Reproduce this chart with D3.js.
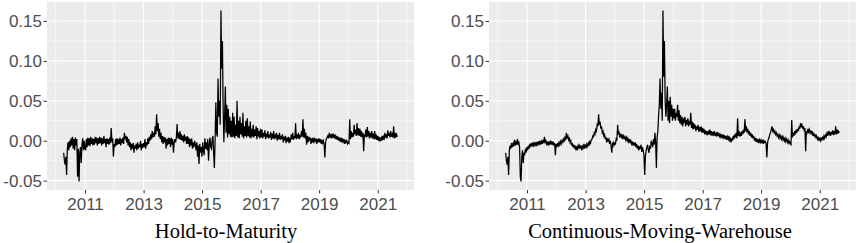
<!DOCTYPE html>
<html><head><meta charset="utf-8">
<script src="https://cdn.jsdelivr.net/npm/d3@7"></script>
<style>body{margin:0;background:#fff}svg{display:block}</style>
</head><body>
<svg id="c" width="858" height="243"></svg>
<script>
// time grid: one value every stepYears starting at startYear
const startYear = 2010.27, stepYears = 0.025;

const valuesHTM = [
  -0.015,-0.025,-0.030,-0.020,-0.043,-0.010,-0.002,-0.012,0.000,-0.008,0.003,-0.006,0.005,-0.010,0.002,-0.012,0.004,-0.006,0.002,-0.045,-0.010,-0.051,-0.015,-0.008,-0.028,-0.005,0.003,-0.012,0.000,-0.010,
  -0.012,0.002,-0.008,0.004,-0.006,0.003,-0.007,0.005,-0.004,0.003,-0.006,0.002,-0.005,0.005,-0.003,0.004,-0.006,0.003,-0.004,0.005,
  -0.003,0.004,-0.006,0.003,-0.004,0.006,-0.003,0.002,-0.008,0.003,-0.004,0.002,-0.005,0.004,-0.003,0.016,-0.002,0.003,-0.020,-0.004,
  -0.008,0.002,-0.006,0.003,-0.005,0.002,-0.004,0.004,-0.006,0.002,-0.003,0.004,-0.004,0.010,0.002,0.006,-0.002,0.005,-0.006,0.002,
  -0.008,-0.002,-0.012,-0.004,-0.010,-0.003,-0.015,-0.006,-0.010,-0.004,-0.012,-0.002,-0.010,-0.005,-0.008,0.000,-0.012,-0.004,-0.009,-0.003,
  -0.008,0.002,-0.010,-0.002,-0.006,0.003,-0.004,0.005,0.000,0.008,0.002,0.012,0.004,0.010,0.005,0.018,0.008,0.033,0.012,0.022,
  0.005,0.015,0.002,0.010,-0.002,0.006,-0.004,0.005,-0.002,0.004,-0.010,0.002,-0.006,0.004,-0.004,0.003,-0.008,0.004,-0.005,0.002,
  -0.015,-0.003,0.002,-0.002,0.004,0.021,0.003,0.010,0.002,0.012,0.001,0.008,0.000,0.006,-0.002,0.008,0.000,0.005,-0.004,0.006,
  -0.004,0.004,-0.008,0.002,-0.006,0.003,-0.010,-0.002,-0.008,0.000,-0.005,-0.012,-0.002,-0.020,-0.006,-0.029,-0.004,-0.015,-0.008,-0.020,
  -0.002,-0.012,-0.018,0.003,-0.010,-0.002,-0.012,0.002,-0.025,-0.005,0.004,-0.008,-0.010,0.002,0.006,-0.015,-0.034,0.002,0.048,0.010,
  0.005,0.078,0.030,0.050,0.020,0.163,0.090,0.125,0.040,-0.002,0.030,0.068,0.010,0.045,0.004,0.040,0.008,0.030,0.005,0.025,
  0.004,0.035,0.005,0.030,0.003,0.020,0.006,0.050,0.004,0.025,0.003,0.030,0.008,0.022,0.005,0.035,0.003,0.018,0.006,0.025,
  0.004,0.028,0.006,0.018,0.004,0.024,0.003,0.015,0.005,0.020,0.004,0.014,0.006,0.018,0.002,0.016,0.005,0.012,0.003,0.015,
  0.004,0.014,0.003,0.010,0.005,0.013,0.002,0.009,0.004,0.012,0.003,0.008,0.004,0.011,0.001,0.009,0.003,0.012,0.002,0.008,
  0.003,0.010,0.000,0.007,0.002,0.010,0.001,0.006,0.002,0.008,-0.002,0.005,0.000,0.006,-0.003,0.004,-0.001,0.005,-0.003,0.002,
  0.000,0.008,0.002,0.010,0.001,0.006,0.003,0.022,0.002,0.008,0.003,0.010,0.002,0.007,0.004,0.012,0.005,0.027,0.004,0.015,
  0.003,0.010,-0.005,0.006,-0.002,0.005,0.000,0.004,-0.004,0.003,-0.002,0.004,-0.003,0.002,0.000,0.003,-0.004,0.002,-0.002,0.003,
  -0.002,0.002,-0.004,0.001,-0.003,0.000,-0.004,-0.021,-0.002,0.002,0.004,0.006,0.003,0.010,0.004,0.008,0.003,0.009,0.004,0.007,
  0.003,0.008,0.002,0.006,0.001,0.005,0.000,0.004,-0.001,0.004,-0.002,0.003,-0.001,0.002,-0.004,0.001,-0.002,0.000,-0.004,-0.002,
  -0.003,0.027,0.002,0.012,0.004,0.010,0.005,0.020,0.008,0.014,0.006,0.022,0.007,0.016,0.006,0.015,0.005,0.012,0.004,0.010,
  -0.013,0.008,0.005,0.014,0.004,0.017,0.005,0.012,0.003,0.010,0.004,0.012,0.003,0.009,0.002,0.012,0.002,0.008,0.001,0.006,
  0.000,0.005,-0.001,0.004,0.000,0.006,0.002,0.005,0.001,0.010,0.004,0.008,0.003,0.013,0.006,0.010,0.004,0.012,0.005,0.008,0.004,0.018,0.003,0.010,0.004,0.008,0.005
];

const valuesCMW = [
  -0.015,-0.025,-0.030,-0.020,-0.043,-0.012,-0.006,-0.010,-0.003,-0.008,-0.004,-0.007,0.001,-0.006,-0.002,-0.005,0.002,-0.004,-0.002,-0.008,-0.045,-0.051,-0.020,-0.012,-0.028,-0.015,-0.018,-0.010,-0.015,-0.008,
  -0.012,-0.006,-0.010,-0.004,-0.008,-0.003,-0.007,-0.002,-0.006,-0.003,-0.007,-0.002,-0.005,-0.001,-0.006,-0.002,-0.004,0.000,-0.005,-0.001,
  -0.004,0.001,-0.003,0.005,-0.002,0.000,-0.004,-0.001,-0.006,-0.002,-0.004,0.000,-0.005,-0.002,-0.004,-0.001,-0.006,-0.003,-0.018,-0.004,
  -0.008,-0.003,-0.006,-0.002,-0.005,-0.001,-0.004,0.000,-0.003,0.002,0.000,0.004,0.002,0.010,0.004,0.006,0.001,0.003,-0.002,0.000,
  -0.006,-0.003,-0.008,-0.005,-0.010,-0.006,-0.012,-0.007,-0.010,-0.006,-0.009,-0.005,-0.010,-0.006,-0.012,-0.007,-0.009,-0.004,-0.010,-0.006,
  -0.008,-0.004,-0.007,-0.003,-0.006,-0.001,-0.003,0.001,0.002,0.006,0.005,0.010,0.008,0.014,0.012,0.020,0.018,0.033,0.020,0.024,
  0.015,0.018,0.010,0.012,0.006,0.008,0.002,0.005,-0.002,0.003,0.000,0.002,-0.004,0.000,-0.006,-0.015,-0.004,-0.002,-0.006,-0.003,
  -0.004,0.002,0.000,0.020,0.008,0.010,0.004,0.009,0.005,0.008,0.002,0.006,0.003,0.005,0.001,0.004,0.000,0.003,-0.001,0.002,
  -0.003,0.000,-0.004,-0.001,-0.006,-0.003,-0.005,-0.002,-0.008,-0.004,-0.010,-0.006,-0.012,-0.007,-0.010,-0.005,-0.014,-0.008,-0.012,-0.018,
  -0.043,-0.020,-0.012,-0.008,-0.005,-0.012,-0.015,-0.006,-0.010,0.000,-0.004,-0.008,0.002,-0.005,0.010,-0.002,-0.034,0.004,0.012,0.030,
  0.045,0.078,0.040,0.060,0.025,0.163,0.080,0.125,0.050,0.030,0.045,0.068,0.025,0.050,0.022,0.055,0.030,0.045,0.025,0.040,
  0.028,0.040,0.025,0.035,0.030,0.045,0.025,0.038,0.022,0.032,0.020,0.030,0.018,0.028,0.022,0.030,0.018,0.026,0.020,0.028,
  0.018,0.025,0.020,0.035,0.016,0.024,0.014,0.022,0.015,0.020,0.012,0.018,0.014,0.020,0.011,0.017,0.012,0.018,0.010,0.016,
  0.010,0.015,0.008,0.013,0.009,0.012,0.007,0.011,0.008,0.014,0.007,0.012,0.006,0.011,0.008,0.012,0.006,0.010,0.005,0.011,
  0.006,0.010,0.004,0.009,0.005,0.008,0.003,0.008,0.004,0.007,0.002,0.006,0.001,0.005,0.002,0.006,-0.001,0.004,-0.002,0.003,
  0.000,0.006,0.002,0.008,0.004,0.010,0.003,0.028,0.006,0.012,0.005,0.010,0.006,0.012,0.008,0.014,0.010,0.027,0.012,0.018,
  0.010,0.015,0.008,0.012,0.006,0.010,0.004,0.008,0.003,0.006,0.000,0.004,-0.001,0.003,-0.002,0.002,-0.003,0.001,-0.002,0.001,
  -0.003,0.001,-0.004,0.000,-0.002,-0.001,-0.004,-0.021,-0.002,0.002,0.004,0.008,0.010,0.014,0.018,0.012,0.014,0.010,0.012,0.008,
  0.010,0.006,0.008,0.004,0.007,0.003,0.006,0.002,0.005,0.001,0.004,0.000,0.003,-0.001,0.002,-0.002,0.001,-0.003,-0.001,-0.004,
  -0.005,0.026,0.004,0.010,0.006,0.012,0.008,0.014,0.010,0.015,0.012,0.018,0.015,0.022,0.018,0.020,0.015,0.018,0.012,0.016,
  -0.013,0.012,0.010,0.015,0.011,0.014,0.010,0.013,0.008,0.012,0.006,0.010,0.005,0.008,0.003,0.006,0.002,0.005,0.000,0.004,
  0.000,0.003,0.001,0.004,0.002,0.006,0.003,0.007,0.005,0.009,0.006,0.012,0.007,0.010,0.006,0.011,0.008,0.013,0.007,0.012,0.008,0.018,0.008,0.014,0.009,0.012,0.010
];

const xTickYears = [2011, 2013, 2015, 2017, 2019, 2021];
const xMinorYears = [2010, 2012, 2014, 2016, 2018, 2020, 2022];
const yTicks = [-0.05, 0.00, 0.05, 0.10, 0.15];
const yTickLabels = ["-0.05", "0.00", "0.05", "0.10", "0.15"];
const yMinor = [-0.025, 0.025, 0.075, 0.125];
const titles = ["Hold-to-Maturity", "Continuous-Moving-Warehouse"];

function toDate(y) {
  const yr = Math.floor(y);
  const s = Date.UTC(yr, 0, 1), e = Date.UTC(yr + 1, 0, 1);
  return new Date(s + (y - yr) * (e - s));
}

const svg = d3.select("#c");
const panels = [
  {x0: 47, x1: 414, cx: 226, values: valuesHTM, title: titles[0]},
  {x0: 489, x1: 856, cx: 660, values: valuesCMW, title: titles[1]}
];
const plotTop = 2, plotBottom = 190;

panels.forEach(p => {
  const data = p.values.map((v, i) => ({d: toDate(startYear + i * stepYears), v}));
  const dExt = d3.extent(data, d => +d.d);
  const dPad = (dExt[1] - dExt[0]) * 0.05;
  const x = d3.scaleUtc().domain([new Date(dExt[0] - dPad), new Date(dExt[1] + dPad)]).range([p.x0, p.x1]);
  const vExt = d3.extent(data, d => d.v);
  const vPad = (vExt[1] - vExt[0]) * 0.05;
  const y = d3.scaleLinear().domain([vExt[0] - vPad, vExt[1] + vPad]).range([plotBottom, plotTop]);

  const g = svg.append("g");
  g.append("rect").attr("x", p.x0).attr("y", plotTop).attr("width", p.x1 - p.x0).attr("height", plotBottom - plotTop).attr("fill", "#ebebeb");

  // minor grid
  g.selectAll(".mx").data(xMinorYears.map(toDate)).join("line")
    .attr("x1", d => x(d)).attr("x2", d => x(d)).attr("y1", plotTop).attr("y2", plotBottom)
    .attr("stroke", "#fff").attr("stroke-width", 0.55);
  g.selectAll(".my").data(yMinor).join("line")
    .attr("x1", p.x0).attr("x2", p.x1).attr("y1", d => y(d)).attr("y2", d => y(d))
    .attr("stroke", "#fff").attr("stroke-width", 0.55);
  // major grid
  g.selectAll(".Mx").data(xTickYears.map(toDate)).join("line")
    .attr("x1", d => x(d)).attr("x2", d => x(d)).attr("y1", plotTop).attr("y2", plotBottom)
    .attr("stroke", "#fff").attr("stroke-width", 1.1);
  g.selectAll(".My").data(yTicks).join("line")
    .attr("x1", p.x0).attr("x2", p.x1).attr("y1", d => y(d)).attr("y2", d => y(d))
    .attr("stroke", "#fff").attr("stroke-width", 1.1);

  // line
  g.append("path").datum(data)
    .attr("d", d3.line().x(d => x(d.d)).y(d => y(d.v)))
    .attr("fill", "none").attr("stroke", "#000").attr("stroke-width", 1.25).attr("stroke-linejoin", "miter");

  // axes
  const ax = g.append("g").attr("transform", `translate(0,${plotBottom})`)
    .call(d3.axisBottom(x).tickValues(xTickYears.map(toDate)).tickFormat(d3.utcFormat("%Y")).tickSize(3.5).tickPadding(4));
  const ay = g.append("g").attr("transform", `translate(${p.x0},0)`)
    .call(d3.axisLeft(y).tickValues(yTicks).tickFormat((d, i) => yTickLabels[i]).tickSize(3.5).tickPadding(1.5));
  [ax, ay].forEach(a => {
    a.select(".domain").remove();
    a.selectAll(".tick line").attr("stroke", "#333").attr("stroke-width", 1);
    a.selectAll(".tick text").attr("fill", "#4d4d4d").style("font-family", "'Liberation Sans', Arial, sans-serif").style("font-size", "17px");
  });

  g.append("text").attr("x", p.cx).attr("y", 238).attr("text-anchor", "middle")
    .style("font-family", "'Liberation Serif', 'Times New Roman', serif").style("font-size", "20.5px").attr("fill", "#000")
    .text(p.title);
});
</script>
</body></html>
